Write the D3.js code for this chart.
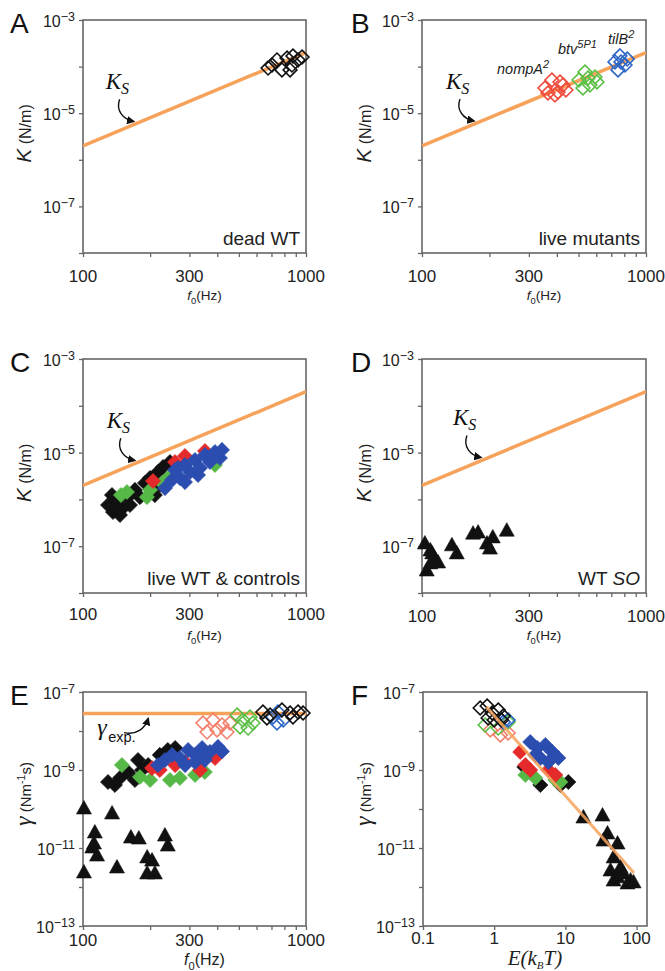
<!DOCTYPE html>
<html><head><meta charset="utf-8">
<script src="https://cdn.jsdelivr.net/npm/d3@7"></script>
<style>body{margin:0;background:#fff}svg{display:block}</style>
</head><body><svg id="c" width="665" height="971"></svg>
<script>
// ---------------- DATA ----------------
// frequency axis ticks (Hz)
const f0Ticks = [100,200,300,400,500,600,700,800,900,1000];
const f0TickLabels = [100,300,1000];
const energyTicks = [0.1,1,10,100];
const energyTickLabels = ["0.1","1","10","100"];
const kTickExps = [-8,-7,-6,-5,-4,-3];
const kLabelExps = [-3,-5,-7];
const gTickExps = [-13,-12,-11,-10,-9,-8,-7];
const gLabelExps = [-7,-9,-11,-13];

// K_S line (f0 [Hz], K [N/m])
const ksF = [100,1000];
const ksK = [2e-6,2e-4];
// gamma_exp line
const gammaExpF = [100,1000];
const gammaExpVal = [2.8e-8,2.8e-8];
// fit line in F (E [kBT], gamma)
const fitE = [0.78,92];
const fitGamma = [4.1e-8,2.3e-12];

// Panel A: dead WT [f0, K]
const A_deadWT = [[676,9.3e-5],[741,1.39e-4],[780,8.5e-5],[822,1.53e-4],[865,1.08e-4],[874,1.69e-4],[921,1.39e-4],[960,1.61e-4],[848,8.5e-5],[704,1.08e-4]];
// Panel B: live mutants
const B_nompA = [[354,3.47e-5],[380,5.15e-5],[405,2.85e-5],[426,4.03e-5],[392,2.46e-5],[365,2.71e-5],[439,3.15e-5],[413,4.67e-5]];
const B_btv = [[502,5.15e-5],[534,7.66e-5],[562,4.03e-5],[592,5.98e-5],[551,5.7e-5],[523,3.47e-5],[604,4.67e-5]];
const B_tilB = [[727,1.26e-4],[765,1.7e-4],[806,1.08e-4],[750,8.5e-5],[825,1.45e-4],[773,1.26e-4]];
// Panel C: live WT & controls
const C_black = [[129.5,7.59e-7],[136.3,5.38e-7],[143.5,9.7e-7],[141.9,7.59e-7],[151,6.55e-7],[159,1.12e-6],[134.9,1.24e-6],[146.5,4.64e-7],[162.4,7.59e-7],[171,1.59e-6],[180,1.12e-6],[189.7,2.24e-6],[199.7,2.86e-6],[210,1.24e-6],[216.9,3.85e-6],[228.5,4.92e-6],[245.5,6.3e-6],[221.5,2.03e-6]];
const C_green = [[148,1.24e-6],[157.5,1.44e-6],[193.6,1.12e-6],[199.7,1.59e-6],[226,2.24e-6],[240.5,2.86e-6],[390.7,5.43e-6]];
const C_red = [[206,2.47e-6],[286.6,8.46e-6],[352.4,1.08e-5],[258.6,6.3e-6]];
const C_blue = [[233.2,1.75e-6],[250.6,2.6e-6],[258.6,4.25e-6],[266.6,4.69e-6],[272.3,2.86e-6],[286.6,5.43e-6],[301.9,3.85e-6],[317.8,6.95e-6],[334.7,4.69e-6],[352.4,8.89e-6],[363,7.67e-6],[371,6.3e-6],[390.7,1.03e-5],[411.3,7.67e-6],[420,1.14e-5],[286.6,2.35e-6],[328,3.32e-6]];
// Panel D: WT SO
const D_SO = [[103,1.17e-7],[105,3.1e-8],[111,7.2e-8],[114,5.6e-8],[118,4.6e-8],[109,8.3e-8],[136,1.07e-7],[143,7.2e-8],[169,1.9e-7],[178,2.0e-7],[195,1.17e-7],[201,9.1e-8],[207,1.58e-7],[239,2.2e-7],[109,4.4e-8]];
// Panel E: [f0, gamma]
const E_deadWT = [[641,3.07e-8],[690,2.57e-8],[780,3.45e-8],[848,2.9e-8],[921,3.07e-8],[970,2.9e-8],[874,2.29e-8],[668,2.16e-8]];
const E_tilB = [[711,2.29e-8],[748,3.07e-8],[790,1.91e-8],[741,1.6e-8]];
const E_btv = [[491,2.57e-8],[521,1.91e-8],[561,2.29e-8],[506,1.27e-8],[550,1.19e-8],[578,1.6e-8]];
const E_nompA = [[345,1.6e-8],[383,1.91e-8],[420,1.43e-8],[456,1.6e-8],[360,9.4e-9],[399,1.06e-8],[442,9.4e-9]];
const E_black = [[129.5,4.92e-10],[139,4.12e-10],[146.5,6.24e-10],[159,8.89e-10],[171,5.54e-10],[184,1e-9],[196,1.34e-9],[221,2.43e-9],[240,3.26e-9],[259,3.67e-9],[176.5,1.8e-9]];
const E_green = [[149.5,1.34e-9],[180,6.62e-10],[200,5.54e-10],[245.5,5.54e-10],[272,6.24e-10],[318,7.45e-10],[352,8.89e-10]];
const E_red = [[204,1.12e-9],[221,1e-9],[259,1.34e-9],[287,1.6e-9],[335,1e-9],[391,2.03e-9]];
const E_blue = [[217,1.34e-9],[233,1.8e-9],[251,2.43e-9],[272,2.03e-9],[296,3.26e-9],[318,2.43e-9],[342,3.67e-9],[371,2.9e-9],[403,3.9e-9],[420,3.0e-9],[287,1.34e-9],[318,1.6e-9],[352,1.8e-9]];
const E_SO = [[101,1.06e-10],[101,2.43e-12],[113,2.57e-11],[112,1.34e-11],[115.6,6.6e-12],[110,1.06e-11],[135,7.9e-11],[142,3.26e-12],[164,1.91e-11],[178,1.8e-11],[194,5.9e-12],[204,4.9e-12],[194,2.29e-12],[210,2.29e-12],[233,2.15e-11],[240,1.19e-11]];
// Panel F: [E (kBT), gamma]
const F_deadWT = [[0.635,3.89e-8],[0.796,4.38e-8],[0.937,2.9e-8],[1.14,3.45e-8],[1.34,2.43e-8],[0.822,2.16e-8],[1.0,1.91e-8],[1.26,1.91e-8]];
const F_btv = [[0.746,1.43e-8],[1.14,1.19e-8],[1.57,1.7e-8]];
const F_nompA = [[1.22,7.9e-9],[1.57,8.9e-9],[0.88,1.06e-8]];
const F_tilB = [[1.57,1.91e-8],[1.34,1.7e-8]];
const F_black = [[2.65,1.2e-9],[4.45,4.12e-10],[8.5,4.12e-10],[11.0,4.92e-10]];
const F_green = [[2.74,7.45e-10],[3.78,6.24e-10],[7.23,5.54e-10],[8.5,4.92e-10]];
const F_red = [[2.32,2.9e-9],[2.74,1.34e-9],[3.21,1e-9],[5.77,1e-9],[7.23,7.45e-10]];
const F_blue = [[3.21,5.22e-9],[4.03,3.67e-9],[5.23,4.38e-9],[6.56,2.9e-9],[7.96,2.03e-9],[4.45,2.03e-9],[5.77,1.6e-9],[3.78,2.43e-9]];
const F_SO = [[17.9,6.24e-11],[33.2,7.0e-11],[39,2.43e-11],[54,1.34e-11],[34.3,1.6e-11],[47.5,5.9e-12],[59.5,3.26e-12],[65.7,2.29e-12],[82.3,1.51e-12],[43,2.73e-12],[54,1.82e-12],[74.6,1.27e-12],[90.8,1.35e-12],[47.5,1.51e-12]];

// ---------------- STYLE ----------------
const SANS = "'Liberation Sans', Arial, Helvetica, sans-serif";
const SERIF = "'Liberation Serif','Times New Roman',serif";
const COL = {black:"#111", green:"#56b847", red:"#e42a2a", blue:"#2b4db0",
  greenO:"#5cbf45", redO:"#ef4b3c", blueO:"#2d66c6", salmon:"#f3806d", orange:"#f7a25b"};
const FRAME = "#666";

const svg = d3.select('#c').attr('font-family', SANS);
svg.append('rect').attr('width',665).attr('height',971).attr('fill','#fff');
const defs = svg.append('defs');
defs.append('marker').attr('id','ah').attr('viewBox','0 0 10 10').attr('refX',8).attr('refY',5)
  .attr('markerWidth',6).attr('markerHeight',6).attr('orient','auto')
  .append('path').attr('d','M0,0L10,5L0,10Z').attr('fill','#111');

const diamond = r => `M0,${-r}L${r},0L0,${r}L${-r},0Z`;
const triangle = "M0,-7.5L7.5,6L-7.5,6Z";

function panel(cfg){
  const g = svg.append('g');
  const x = d3.scaleLog().domain(cfg.xDomain).range([cfg.x0,cfg.x1]);
  const y = d3.scaleLog().domain(cfg.yDomain).range([cfg.y1,cfg.y0]);
  const cid = 'clip'+cfg.letter;
  defs.append('clipPath').attr('id',cid).append('rect')
    .attr('x',cfg.x0).attr('y',cfg.y0).attr('width',cfg.x1-cfg.x0).attr('height',cfg.y1-cfg.y0);
  g.append('rect').attr('x',cfg.x0).attr('y',cfg.y0).attr('width',cfg.x1-cfg.x0).attr('height',cfg.y1-cfg.y0)
    .attr('fill','none').attr('stroke',FRAME).attr('stroke-width',1.6);
  const gx = g.append('g').attr('transform',`translate(0,${cfg.y1})`)
    .call(d3.axisBottom(x).tickValues(cfg.xTicks).tickSize(4).tickFormat(''));
  gx.select('.domain').remove();
  gx.selectAll('line').attr('stroke',FRAME).attr('stroke-width',1.3);
  g.selectAll(null).data(cfg.xLabels).join('text')
    .attr('x',(d,i)=>x(cfg.xLabelVals[i])).attr('y',cfg.y1+cfg.xLabelDy)
    .attr('text-anchor','middle').attr('font-size',17).attr('fill','#222').text(d=>d);
  const gy = g.append('g').attr('transform',`translate(${cfg.x0},0)`)
    .call(d3.axisLeft(y).tickValues(cfg.yExps.map(e=>Math.pow(10,e))).tickSize(4).tickFormat(''));
  gy.select('.domain').remove();
  gy.selectAll('line').attr('stroke',FRAME).attr('stroke-width',1.3);
  cfg.yLabelExps.forEach(e=>{
    const t = g.append('text').attr('x',cfg.x0-8).attr('y',y(Math.pow(10,e))+7)
      .attr('text-anchor','end').attr('font-size',16).attr('fill','#222');
    t.append('tspan').text('10');
    t.append('tspan').attr('font-size',12.5).attr('dy',-6).text('\u2212'+(-e));
  });
  g.append('text').attr('x',cfg.letterX).attr('y',cfg.y0+13).attr('font-size',28).attr('fill','#111').text(cfg.letter);
  const plot = g.append('g');
  return {g, plot, x, y, cid, cfg};
}

function line(p, xs, ys, width, opacity, clip=true){
  const l = p.plot.append('path').datum(xs.map((v,i)=>[v,ys[i]]))
    .attr('d', d3.line().x(d=>p.x(d[0])).y(d=>p.y(d[1])))
    .attr('fill','none').attr('stroke',COL.orange).attr('stroke-width',width)
    .attr('stroke-linecap','butt').attr('opacity',opacity);
  if(clip) l.attr('clip-path',`url(#${p.cid})`);
}
function pts(p, data, shape, color, filled){
  p.plot.append('g').selectAll('path').data(data).join('path')
    .attr('transform',d=>`translate(${p.x(d[0])},${p.y(d[1])})`)
    .attr('d', shape==='tri' ? triangle : diamond(filled?7.6:6.9))
    .attr('fill', filled?color:'none')
    .attr('stroke', color).attr('stroke-width', filled?0.6:1.6).attr('stroke-linejoin','miter');
}
function xTitleF0(p, size, dy){
  const c = p.cfg; const t = p.g.append('text').attr('x',(c.x0+c.x1)/2+10).attr('y',c.y1+dy)
    .attr('text-anchor','middle').attr('font-size',size).attr('fill','#222');
  t.append('tspan').attr('font-style','italic').text('f');
  t.append('tspan').attr('font-size',size*0.7).attr('dy',size*0.3).text('0');
  t.append('tspan').attr('dy',-size*0.3).text('(Hz)');
}
function yTitleK(p, xb){
  const c = p.cfg;
  const t = p.g.append('text').attr('transform',`translate(${xb},${(c.y0+c.y1)/2-3}) rotate(-90)`)
    .attr('text-anchor','middle').attr('fill','#222');
  t.append('tspan').attr('font-style','italic').attr('font-size',21).text('K');
  t.append('tspan').attr('font-size',16).text(' (N/m)');
}
function yTitleG(p, xb){
  const c = p.cfg;
  const t = p.g.append('text').attr('transform',`translate(${xb},${(c.y0+c.y1)/2-15}) rotate(-90)`)
    .attr('text-anchor','middle').attr('fill','#222');
  t.append('tspan').attr('font-style','italic').attr('font-family',SERIF).attr('font-size',24).text('\u03b3');
  t.append('tspan').attr('font-size',15).text(' (Nm');
  t.append('tspan').attr('font-size',10.5).attr('dy',-6).text('-1');
  t.append('tspan').attr('font-size',15).attr('dy',6).text('s)');
}
function cornerLabel(p, parts){
  const c = p.cfg;
  const t = p.g.append('text').attr('x',c.x1-6).attr('y',c.y1-8).attr('text-anchor','end')
    .attr('font-size',19).attr('fill','#222');
  parts.forEach(([s,it])=>t.append('tspan').attr('font-style',it?'italic':'normal').text(s));
}
function ksAnnot(p, fTip){
  const slope = Math.log(ksK[1]/ksK[0])/Math.log(ksF[1]/ksF[0]);
  const kTip = ksK[0]*Math.pow(fTip/ksF[0], slope);
  const tx = p.x(fTip), ty = p.y(kTip);
  const t = p.g.append('text').attr('x',tx-31).attr('y',ty-34).attr('font-family',SERIF)
    .attr('font-style','italic').attr('font-size',23).attr('fill','#111');
  t.append('tspan').text('K');
  t.append('tspan').attr('font-size',16).attr('dy',5).text('S');
  p.g.append('path').attr('d',`M${tx-17},${ty-24}C${tx-21},${ty-13} ${tx-14},${ty-4} ${tx-3},${ty-2}`)
    .attr('fill','none').attr('stroke','#111').attr('stroke-width',1.4).attr('marker-end','url(#ah)');
}

const f0Panel = (letter, x0, x1, y0, y1, yDomain, yExps, yLabelExps, letterX, xLabelDy) => panel({
  letter, x0, x1, y0, y1, xDomain:[100,1000], yDomain, xTicks:f0Ticks,
  xLabels:f0TickLabels.map(String), xLabelVals:f0TickLabels, xLabelDy,
  yExps, yLabelExps, letterX});

// ---------- A ----------
const pA = f0Panel('A',83,306,20,253,[1e-8,1e-3],kTickExps,kLabelExps,10,29);
line(pA, ksF, ksK, 3.5, 1);
pts(pA, A_deadWT, 'dia', COL.black, false);
ksAnnot(pA, 174);
cornerLabel(pA, [['dead WT',false]]);
xTitleF0(pA, 13.5, 47); yTitleK(pA, 31);

// ---------- B ----------
const pB = f0Panel('B',422,646,20,253,[1e-8,1e-3],kTickExps,kLabelExps,351,29);
line(pB, ksF, ksK, 3.5, 1);
pts(pB, B_nompA, 'dia', COL.redO, false);
pts(pB, B_btv, 'dia', COL.greenO, false);
pts(pB, B_tilB, 'dia', COL.blueO, false);
ksAnnot(pB, 176);
cornerLabel(pB, [['live mutants',false]]);
xTitleF0(pB, 13.5, 47); yTitleK(pB, 371);
[['nompA','2',497,74],['btv','5P1',558,54],['tilB','2',608,44]].forEach(([a,s,xx,yy])=>{
  const t = pB.g.append('text').attr('x',xx).attr('y',yy).attr('font-style','italic').attr('font-size',14.5).attr('fill','#222');
  t.append('tspan').text(a);
  t.append('tspan').attr('font-size',11).attr('dy',-6).text(s);
});

// ---------- C ----------
const pC = f0Panel('C',83,306,359,593,[1e-8,1e-3],kTickExps,kLabelExps,10,27);
line(pC, ksF, ksK, 3.5, 1);
pts(pC, C_black, 'dia', COL.black, true);
pts(pC, C_green, 'dia', COL.green, true);
pts(pC, C_red, 'dia', COL.red, true);
pts(pC, C_blue, 'dia', COL.blue, true);
ksAnnot(pC, 176);
cornerLabel(pC, [['live WT & controls',false]]);
xTitleF0(pC, 13.5, 47); yTitleK(pC, 31);

// ---------- D ----------
const pD = f0Panel('D',422,646,359,593,[1e-8,1e-3],kTickExps,kLabelExps,351,29);
line(pD, ksF, ksK, 3.5, 1);
pts(pD, D_SO, 'tri', COL.black, true);
ksAnnot(pD, 189);
cornerLabel(pD, [['WT ',false],['SO',true]]);
xTitleF0(pD, 13.5, 47); yTitleK(pD, 371);

// ---------- E ----------
const pE = f0Panel('E',83,306,692,926,[1e-13,1e-7],gTickExps,gLabelExps,10,20);
line(pE, gammaExpF, gammaExpVal, 3.5, 1);
pts(pE, E_nompA, 'dia', COL.salmon, false);
pts(pE, E_btv, 'dia', COL.greenO, false);
pts(pE, E_tilB, 'dia', COL.blueO, false);
pts(pE, E_deadWT, 'dia', COL.black, false);
pts(pE, E_black, 'dia', COL.black, true);
pts(pE, E_green, 'dia', COL.green, true);
pts(pE, E_red, 'dia', COL.red, true);
pts(pE, E_blue, 'dia', COL.blue, true);
pts(pE, E_SO, 'tri', COL.black, true);
{
  const tx = pE.x(198), ty = pE.y(gammaExpVal[0]) + 3;
  pE.g.append('text').attr('x',tx-52).attr('y',ty+18).attr('font-family',SERIF).attr('font-style','italic')
    .attr('font-size',24).attr('fill','#111').text('\u03b3');
  pE.g.append('text').attr('x',tx-41).attr('y',ty+25).attr('font-size',14.5).attr('fill','#111').text('exp.');
  pE.g.append('path').attr('d',`M${tx-25},${ty+16}C${tx-13},${ty+19} ${tx-4},${ty+12} ${tx-1},${ty+2}`)
    .attr('fill','none').attr('stroke','#111').attr('stroke-width',1.4).attr('marker-end','url(#ah)');
}
xTitleF0(pE, 16, 39); yTitleG(pE, 31);

// ---------- F ----------
const pF = panel({letter:'F', x0:423, x1:647, y0:692, y1:926, xDomain:[0.1,140], yDomain:[1e-13,1e-7],
  xTicks:energyTicks, xLabels:energyTickLabels, xLabelVals:energyTicks, xLabelDy:18,
  yExps:gTickExps, yLabelExps:gLabelExps, letterX:351});
pts(pF, F_nompA, 'dia', COL.salmon, false);
pts(pF, F_btv, 'dia', COL.greenO, false);
pts(pF, F_tilB, 'dia', COL.blueO, false);
pts(pF, F_deadWT, 'dia', COL.black, false);
pts(pF, F_black, 'dia', COL.black, true);
pts(pF, F_green, 'dia', COL.green, true);
pts(pF, F_red, 'dia', COL.red, true);
pts(pF, F_blue, 'dia', COL.blue, true);
pts(pF, F_SO, 'tri', COL.black, true);
line(pF, fitE, fitGamma, 3, 0.85);
{
  const t = pF.g.append('text').attr('x',535).attr('y',965).attr('text-anchor','middle')
    .attr('font-family',SERIF).attr('font-style','italic').attr('font-size',21).attr('fill','#222');
  t.append('tspan').text('E(k');
  t.append('tspan').attr('font-size',11).attr('dy',4).text('B');
  t.append('tspan').attr('dy',-4).text('T)');
}
yTitleG(pF, 371);
</script></body></html>
